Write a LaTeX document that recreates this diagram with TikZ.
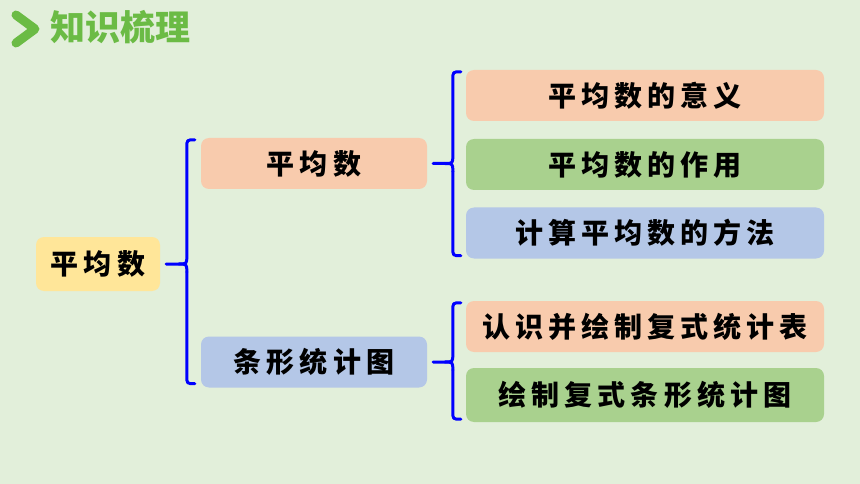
\documentclass[tikz,border=0pt]{standalone}
\usepackage{fontspec}
\setmainfont{Noto Sans CJK SC}
\newfontfamily\cjk[LetterSpace=18]{Noto Sans CJK SC}
\usetikzlibrary{calc}

\definecolor{bgcol}{HTML}{E2EFDA}
\definecolor{titlegreen}{HTML}{6BBB45}
\definecolor{boxorange}{HTML}{F8CBAD}
\definecolor{boxgreen}{HTML}{A9D18E}
\definecolor{boxblue}{HTML}{B4C7E7}
\definecolor{boxyellow}{HTML}{FFE699}

\tikzset{
  brace/.style={draw=blue, line width=3pt, line cap=round, line join=round},
  topic/.style={rounded corners=8pt, minimum height=51pt, inner sep=0pt,
    font=\cjk\bfseries\fontsize{28}{28}\selectfont},
}

\begin{document}
\begin{tikzpicture}[x=1pt,y=-1pt]

      \fill[bgcol] (0,0) rectangle (860,484);
      \useasboundingbox (0,0) rectangle (860,484);

      % title
      \draw[titlegreen, line width=9pt, line cap=round, line join=round]
        (16,15) -- (35,29) -- (16,43);
      \node[text=titlegreen, font=\bfseries\fontsize{35}{35}\selectfont] (title) at (120,27) {知识梳理};

      \begin{scope}[every node/.style={topic}]
        \node[fill=boxyellow, minimum width=124pt, minimum height=54pt] (root) at (98,264) {平均数};
        \node[fill=boxorange, minimum width=226pt] (avg)   at (314,163.5) {平均数};
        \node[fill=boxblue,   minimum width=226pt] (chart) at (314,362)   {条形统计图};
        \node[fill=boxorange, minimum width=358pt] (meaning) at (645,95.5)  {平均数的意义};
        \node[fill=boxgreen,  minimum width=358pt] (use)     at (645,164.5) {平均数的作用};
        \node[fill=boxblue,   minimum width=358pt] (method)  at (645,233)   {计算平均数的方法};
        \node[fill=boxorange, minimum width=358pt] (table)   at (645,326.5) {认识并绘制复式统计表};
        \node[fill=boxgreen,  minimum width=358pt, minimum height=54pt] (bars) at (645,395) {绘制复式条形统计图};
      \end{scope}

      % braces
      \draw[brace] ([xshift=6pt]root.east) -- ($(avg.west|-root.east)+(-22,0)$)
        .. controls ($(avg.west|-root.east)+(-14,0)$) .. ($(avg.west|-root.east)+(-14,-8)$)
        -- ($(avg.north west)+(-14,10)$) .. controls ($(avg.north west)+(-14,2)$) .. ($(avg.north west)+(-6,2)$);
      \draw[brace] ($(avg.west|-root.east)+(-14,8)$)
        -- ($(chart.south west)+(-14,-12)$) .. controls ($(chart.south west)+(-14,-4)$) .. ($(chart.south west)+(-6,-4)$);

      \draw[brace] ([xshift=6pt]avg.east) -- ($(meaning.west|-avg.east)+(-21,0)$)
        .. controls ($(meaning.west|-avg.east)+(-13,0)$) .. ($(meaning.west|-avg.east)+(-13,-8)$)
        -- ($(meaning.north west)+(-13,10)$) .. controls ($(meaning.north west)+(-13,2)$) .. ($(meaning.north west)+(-5,2)$);
      \draw[brace] ($(meaning.west|-avg.east)+(-13,8)$)
        -- ($(method.south west)+(-13,-11)$) .. controls ($(method.south west)+(-13,-3)$) .. ($(method.south west)+(-5,-3)$);

      \draw[brace] ([xshift=6pt]chart.east) -- ($(table.west|-chart.east)+(-21,0)$)
        .. controls ($(table.west|-chart.east)+(-13,0)$) .. ($(table.west|-chart.east)+(-13,-8)$)
        -- ($(table.north west)+(-13,10)$) .. controls ($(table.north west)+(-13,2)$) .. ($(table.north west)+(-5,2)$);
      \draw[brace] ($(table.west|-chart.east)+(-13,8)$)
        -- ($(bars.south west)+(-13,-11)$) .. controls ($(bars.south west)+(-13,-3)$) .. ($(bars.south west)+(-5,-3)$);

      % lower hooks of the tips
      \draw[brace] ($(avg.west|-root.east)+(-22,0)$)
        .. controls ($(avg.west|-root.east)+(-14,0)$) .. ($(avg.west|-root.east)+(-14,8)$);
      \draw[brace] ($(meaning.west|-avg.east)+(-21,0)$)
        .. controls ($(meaning.west|-avg.east)+(-13,0)$) .. ($(meaning.west|-avg.east)+(-13,8)$);
      \draw[brace] ($(table.west|-chart.east)+(-21,0)$)
        .. controls ($(table.west|-chart.east)+(-13,0)$) .. ($(table.west|-chart.east)+(-13,8)$);

\end{tikzpicture}
\end{document}
